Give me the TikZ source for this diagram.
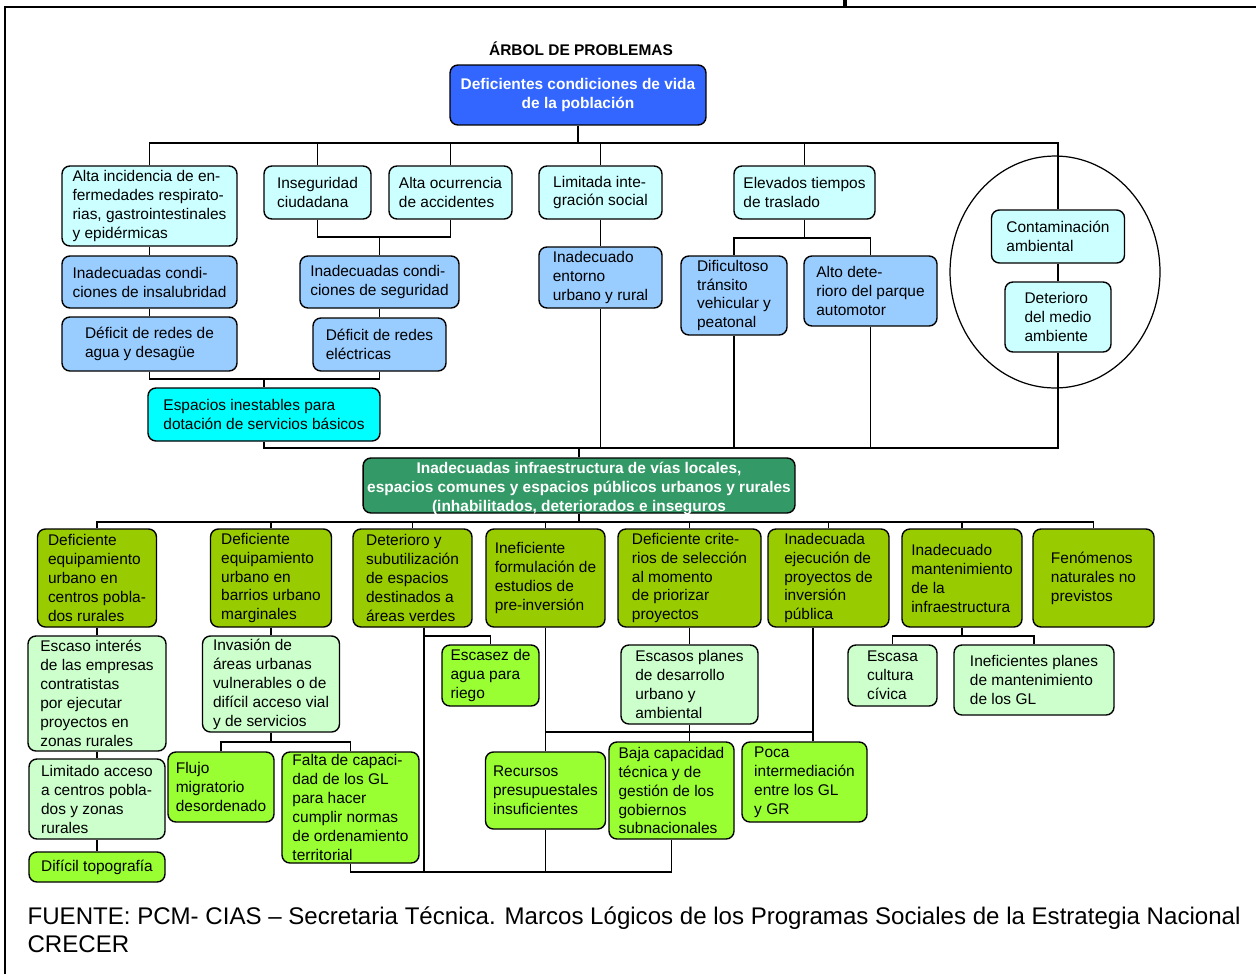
\documentclass[tikz,border=0pt]{standalone}
\usepackage{fontspec}
\setmainfont{Liberation Sans}
\usepackage{tikz}
\usepackage{xcolor}
\usetikzlibrary{positioning, calc}

\definecolor{topblue}{HTML}{3366FF}
\definecolor{paleaqua}{HTML}{CCFFFF}
\definecolor{skyblue}{HTML}{99CCFF}
\definecolor{aqua}{HTML}{00FFFF}
\definecolor{seagreen}{HTML}{339966}
\definecolor{olivebox}{HTML}{99CC00}
\definecolor{palegreen}{HTML}{CCFFCC}
\definecolor{limebox}{HTML}{99FF33}

\begin{document}
\begin{tikzpicture}[x=0.02cm, y=-0.02cm, line width=0.7pt,
        prob/.style={draw, line width=0.8pt, rounded corners=4.5pt, align=left, inner sep=1pt, font=\fontsize{8.8}{10.8}\selectfont},
        head/.style={prob, align=center, text=white, font=\bfseries\fontsize{8.8}{10.8}\selectfont}]
        \useasboundingbox (0,0) rectangle (1256,974);
        \draw[line width=1.2pt] (5,974) -- (5,7) -- (1256,7);
        \draw[line width=2pt] (845,0) -- (845,6);

        \node[font=\bfseries\fontsize{8.8}{10}\selectfont] (ttl) at (581,49) {ÁRBOL DE PROBLEMAS};
        \node[head, fill=topblue, minimum width=5.12cm, minimum height=1.2cm] (top) at (578,95) {Deficientes condiciones de vida\\de la población};

        % effects
        \coordinate (env) at (1055,272);
        \draw (env) ellipse [x radius=2.1cm, y radius=2.32cm];
        \node[prob, fill=paleaqua, minimum width=3.5cm, minimum height=1.6cm] (A1) at (149.5,206) {Alta incidencia de en-\\fermedades respirato-\\rias, gastrointestinales\\y epidérmicas};
        \node[prob, fill=paleaqua, minimum width=2.14cm, minimum height=1.06cm] (A2) at (317.5,192.5) {Inseguridad\\ciudadana};
        \node[prob, fill=paleaqua, minimum width=2.46cm, minimum height=1.06cm] (A3) at (450.5,192.5) {Alta ocurrencia\\de accidentes};
        \node[prob, fill=paleaqua, minimum width=2.46cm, minimum height=1.06cm] (A4) at (600.5,192.5) {Limitada inte-\\gración social};
        \node[prob, fill=paleaqua, minimum width=2.82cm, minimum height=1.06cm] (A5) at (804.5,192.5) {Elevados tiempos\\de traslado};
        \node[prob, fill=paleaqua, minimum width=2.66cm, minimum height=1.06cm] (A6) at (1058,236.5) {Contaminación\\ambiental};
        \node[prob, fill=paleaqua, minimum width=2.12cm, minimum height=1.4cm] (A7) at (1058,317) {Deterioro\\del medio\\ambiente};

        \node[prob, fill=skyblue, minimum width=3.5cm, minimum height=1.04cm] (B1) at (149.5,282) {Inadecuadas condi-\\ciones de insalubridad};
        \node[prob, fill=skyblue, minimum width=3.18cm, minimum height=1.04cm] (B2) at (379.5,282) {Inadecuadas condi-\\ciones de seguridad};
        \node[prob, fill=skyblue, minimum width=2.46cm, minimum height=1.22cm] (B3) at (600.5,277.5) {Inadecuado\\entorno\\urbano y rural};
        \node[prob, fill=skyblue, minimum width=2.12cm, minimum height=1.58cm] (B4) at (734,295.5) {Dificultoso\\tránsito\\vehicular y\\peatonal};
        \node[prob, fill=skyblue, minimum width=2.66cm, minimum height=1.4cm] (B5) at (870.5,291) {Alto dete-\\rioro del parque\\automotor};
        \node[prob, fill=skyblue, minimum width=3.5cm, minimum height=1.08cm] (C1) at (149.5,344) {Déficit de redes de\\agua y desagüe};
        \node[prob, fill=skyblue, minimum width=2.66cm, minimum height=1.06cm] (C2) at (379.5,344.5) {Déficit de redes\\eléctricas};
        \node[prob, fill=aqua, minimum width=4.64cm, minimum height=1.06cm] (D1) at (264,414.5) {Espacios inestables para\\dotación de servicios básicos};

        % central problem
        \node[head, fill=seagreen, minimum width=8.64cm, minimum height=1.1cm, inner sep=0pt] (E) at (579,485.5) {};
        \node[font=\bfseries\fontsize{8.8}{10.8}\selectfont, text=white, align=center, inner sep=0pt] (Etxt) at (579,488) {Inadecuadas infraestructura de vías locales,\\espacios comunes y espacios públicos urbanos y rurales\\(inhabilitados, deteriorados e inseguros};

        % causes
        \node[prob, fill=olivebox, minimum width=2.38cm, minimum height=1.96cm] (F1) at (97,578) {Deficiente\\equipamiento\\urbano en\\centros pobla-\\dos rurales};
        \node[prob, fill=olivebox, minimum width=2.42cm, minimum height=1.96cm] (F2) at (271,578) {Deficiente\\equipamiento\\urbano en\\barrios urbano\\marginales};
        \node[prob, fill=olivebox, minimum width=2.38cm, minimum height=1.96cm] (F3) at (412.5,578) {Deterioro y\\subutilización\\de espacios\\destinados a\\áreas verdes};
        \node[prob, fill=olivebox, minimum width=2.38cm, minimum height=1.96cm] (F4) at (545.5,578) {Ineficiente\\formulación de\\estudios de\\pre-inversión};
        \node[prob, fill=olivebox, minimum width=2.86cm, minimum height=1.96cm] (F5) at (689.5,578) {Deficiente crite-\\rios de selección\\al momento\\de priorizar\\proyectos};
        \node[prob, fill=olivebox, minimum width=2.42cm, minimum height=1.96cm] (F6) at (828.5,578) {Inadecuada\\ejecución de\\proyectos de\\inversión\\pública};
        \node[prob, fill=olivebox, minimum width=2.4cm, minimum height=1.96cm] (F7) at (962,578) {Inadecuado\\mantenimiento\\de la\\infraestructura};
        \node[prob, fill=olivebox, minimum width=2.42cm, minimum height=1.96cm] (F8) at (1093.5,578) {Fenómenos\\naturales no\\previstos};

        \node[prob, fill=palegreen, minimum width=2.76cm, minimum height=2.3cm] (G1) at (97,693.5) {Escaso interés\\de las empresas\\contratistas\\por ejecutar\\proyectos en\\zonas rurales};
        \node[prob, fill=palegreen, minimum width=2.72cm, minimum height=1.6cm] (H1) at (97,799) {Limitado acceso\\a centros pobla-\\dos y zonas\\rurales};
        \node[prob, fill=limebox, minimum width=2.72cm, minimum height=0.6cm] (I1) at (97,867) {Difícil topografía};
        \node[prob, fill=palegreen, minimum width=2.74cm, minimum height=1.92cm] (G2) at (271,684) {Invasión de\\áreas urbanas\\vulnerables o de\\difícil acceso vial\\y de servicios};
        \node[prob, fill=limebox, minimum width=2.12cm, minimum height=1.4cm] (H2a) at (221,787) {Flujo\\migratorio\\desordenado};
        \node[prob, fill=limebox, minimum width=2.74cm, minimum height=2.22cm] (H2b) at (350.5,807.5) {Falta de capaci-\\dad de los GL\\para hacer\\cumplir normas\\de ordenamiento\\territorial};
        \node[prob, fill=limebox, minimum width=1.94cm, minimum height=1.22cm] (G3) at (490.5,675.5) {Escasez de\\agua para\\riego};
        \node[prob, fill=palegreen, minimum width=2.74cm, minimum height=1.58cm] (G5) at (689.5,684.5) {Escasos planes\\de desarrollo\\urbano y\\ambiental};
        \node[prob, fill=limebox, minimum width=2.4cm, minimum height=1.54cm] (H4) at (545.5,790.5) {Recursos\\presupuestales\\insuficientes};
        \node[prob, fill=limebox, minimum width=2.5cm, minimum height=1.94cm] (H5) at (671.5,790.5) {Baja capacidad\\técnica y de\\gestión de los\\gobiernos\\subnacionales};
        \node[prob, fill=limebox, minimum width=2.5cm, minimum height=1.6cm] (H6) at (804.5,782) {Poca\\intermediación\\entre los GL\\y GR};
        \node[prob, fill=palegreen, minimum width=1.78cm, minimum height=1.22cm] (G7a) at (892.5,675.5) {Escasa\\cultura\\cívica};
        \node[prob, fill=palegreen, minimum width=3.2cm, minimum height=1.4cm] (G7b) at (1034,680) {Ineficientes planes\\de mantenimiento\\de los GL};

        \node[anchor=base west, inner sep=0pt, font=\fontsize{13.7}{16}\selectfont] (src1) at (27,924) {FUENTE: PCM- CIAS – Secretaria Técnica. Marcos Lógicos de los Programas Sociales de la Estrategia Nacional};
        \node[anchor=base west, inner sep=0pt, font=\fontsize{13.7}{16}\selectfont] (src2) at (27,952) {CRECER};

        % connectors, upper tree
        \coordinate (barA) at (578,143);
        \coordinate (jB2) at (379.5,237);
        \coordinate (jD) at (264,379);
        \coordinate (jB4) at (804.5,238);
        \coordinate (barB) at (579,448);
        \draw (top) -- (barA);
        \draw (A1) |- (barA) -| (A6);
        \foreach \n in {A2,A3,A4,A5}
            \draw (\n) -- (\n |- barA);
        \draw (A1) -- (B1);
        \draw (B1) -- (C1);
        \draw (A2) |- (jB2) -| (A3);
        \draw (jB2) -- (B2);
        \draw (B2) -- (C2);
        \draw (C1) |- (jD) -| (C2);
        \draw (jD) -- (D1);
        \draw (A4) -- (B3);
        \draw (A5) -- (jB4);
        \draw (B4) |- (jB4) -| (B5);
        \draw (A6) -- (A7);
        \draw (D1) |- (barB) -| (A7);
        \foreach \n in {B3,B4,B5}
            \draw (\n) -- (\n |- barB);
        \draw (barB) -- (E);

        % connectors, lower tree
        \coordinate (barC) at (579,522);
        \coordinate (jH2) at (271,742);
        \coordinate (jG3) at (424,636);
        \coordinate (jH6) at (813,732);
        \coordinate (barD) at (500,872);
        \coordinate (jG7) at (962,636);
        \draw (E) -- (barC);
        \draw (F1) |- (barC) -| (F8);
        \foreach \n in {F2,F3,F4,F5,F6,F7}
            \draw (\n) -- (\n |- barC);
        \draw (F1) -- (G1);
        \draw (G1) -- (H1);
        \draw (H1) -- (I1);
        \draw (F2) -- (G2);
        \draw (G2) -- (jH2);
        \draw (H2a) |- (jH2) -| (H2b);
        \draw (F3.south -| jG3) -- (jG3 |- barD);
        \draw (jG3) -| (G3);
        \draw (F4) -- (H4);
        \draw (F4 |- jH6) -- (jH6);
        \draw (F6.south -| jH6) -- (H6.north -| jH6);
        \draw (F5) -- (G5);
        \draw (G5) -- (G5 |- H5.north);
        \draw (H2b) |- (barD) -| (H5);
        \draw (H4) -- (H4 |- barD);
        \draw (F7) -- (jG7);
        \draw (G7a) |- (jG7) -| (G7b);
\end{tikzpicture}
\end{document}
